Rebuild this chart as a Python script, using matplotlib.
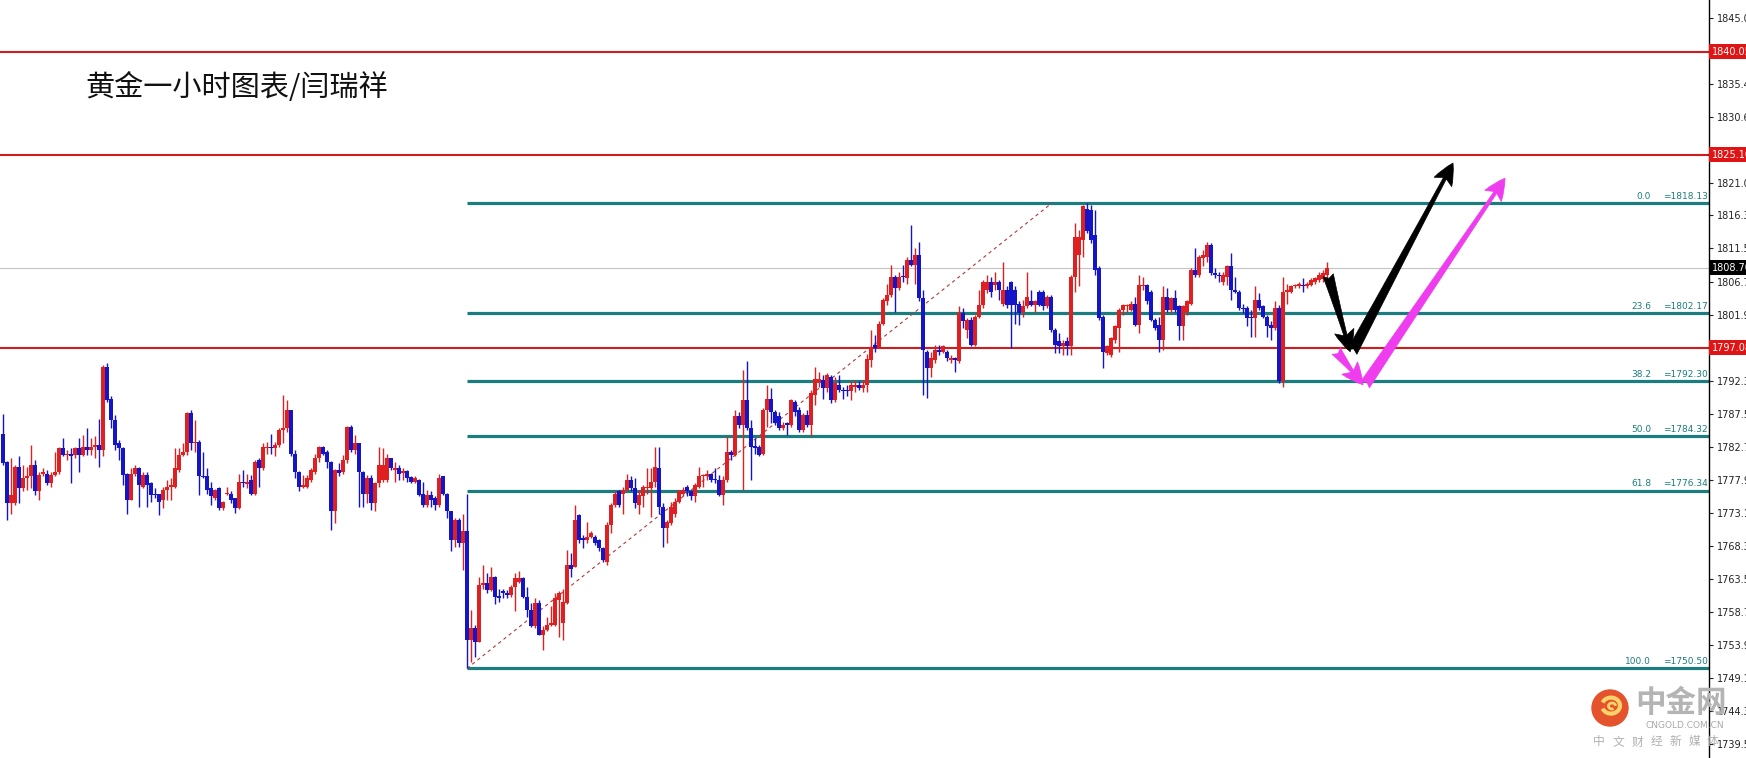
import numpy as np
import matplotlib
matplotlib.use("Agg")
import matplotlib.pyplot as plt
import matplotlib.transforms as mtransforms
from matplotlib.patches import Circle, Arc

plt.rcParams['font.family'] = ['DejaVu Sans']

# hourly gold candles (price in USD)
opens = [
    1784.6, 1780.5, 1774.5, 1774.5, 1779.8, 1776.7, 1778.1, 1778.4, 1780.0, 1776.2,
    1778.8, 1778.8, 1777.4, 1778.6, 1779.1, 1782.5, 1781.5, 1781.7, 1781.5, 1782.5,
    1781.5, 1782.7, 1782.2, 1782.7, 1782.9, 1782.2, 1794.3, 1789.7, 1786.6, 1783.2,
    1782.5, 1778.8, 1775.0, 1778.8, 1779.6, 1776.9, 1778.6, 1777.4, 1775.9, 1775.8,
    1775.0, 1776.4, 1776.9, 1776.9, 1779.3, 1781.5, 1782.0, 1787.6, 1783.2, 1783.4,
    1778.4, 1778.4, 1776.7, 1775.2, 1776.7, 1773.8, 1775.8, 1775.9, 1775.2, 1773.8,
    1777.6, 1777.3, 1777.9, 1775.9, 1780.8, 1779.6, 1782.5, 1782.6, 1782.5, 1782.9,
    1785.1, 1785.4, 1788.0, 1781.7, 1779.1, 1776.9, 1776.9, 1777.9, 1779.1, 1781.0,
    1782.7, 1782.0, 1780.5, 1773.3, 1779.3, 1779.1, 1780.8, 1785.6, 1782.2, 1783.2,
    1779.1, 1775.9, 1778.1, 1774.5, 1777.4, 1777.9, 1777.9, 1781.0, 1779.3, 1779.6,
    1778.9, 1779.2, 1778.3, 1777.6, 1777.9, 1775.8, 1774.2, 1775.7, 1775.2, 1774.2,
    1778.4, 1775.9, 1773.3, 1769.2, 1772.1, 1768.7, 1770.4, 1754.6, 1756.3, 1754.4,
    1762.6, 1762.9, 1761.9, 1763.8, 1761.0, 1761.7, 1761.4, 1761.2, 1762.4, 1763.1,
    1763.6, 1760.9, 1759.0, 1756.6, 1760.0, 1755.4, 1756.1, 1756.8, 1756.8, 1760.4,
    1757.1, 1760.0, 1765.5, 1765.3, 1772.8, 1769.4, 1769.2, 1769.6, 1769.6, 1769.2,
    1768.0, 1766.0, 1771.3, 1774.2, 1776.2, 1775.9, 1776.4, 1777.9, 1776.7, 1774.2,
    1775.5, 1776.7, 1776.7, 1777.6, 1779.6, 1774.0, 1770.9, 1771.6, 1773.0, 1774.7,
    1775.9, 1776.9, 1776.2, 1775.5, 1776.9, 1778.4, 1778.5, 1778.8, 1778.0, 1777.9,
    1775.7, 1777.9, 1782.0, 1781.5, 1787.1, 1785.9, 1789.5, 1785.4, 1782.8, 1782.7,
    1781.7, 1788.0, 1789.7, 1787.8, 1787.1, 1785.4, 1786.1, 1785.9, 1789.2, 1788.0,
    1785.1, 1787.3, 1785.9, 1790.2, 1792.1, 1792.4, 1791.2, 1792.9, 1789.5, 1791.7,
    1791.0, 1790.9, 1790.8, 1791.4, 1791.7, 1791.2, 1791.7, 1795.3, 1797.5, 1797.2,
    1800.6, 1803.8, 1804.7, 1807.4, 1805.7, 1807.4, 1807.2, 1809.8, 1809.1, 1810.5,
    1804.3, 1796.5, 1794.1, 1795.3, 1796.7, 1796.5, 1796.5, 1795.3, 1795.6, 1795.1,
    1802.1, 1799.7, 1801.1, 1797.5, 1801.6, 1803.3, 1805.5, 1806.7, 1806.2, 1806.7,
    1803.5, 1805.5, 1806.7, 1805.5, 1803.5, 1802.3, 1803.1, 1803.8, 1803.3, 1805.2,
    1805.2, 1803.1, 1804.5, 1799.7, 1798.0, 1797.3, 1798.0, 1797.3, 1807.4, 1810.6,
    1812.7, 1817.3, 1817.1, 1813.5, 1808.6, 1801.6, 1796.3, 1796.0, 1798.2, 1799.9,
    1802.6, 1803.1, 1802.6, 1803.5, 1800.4, 1806.0, 1806.2, 1805.2, 1801.1, 1800.4,
    1798.2, 1804.5, 1802.6, 1804.3, 1803.1, 1800.2, 1802.3, 1803.5, 1808.4, 1807.7,
    1810.1, 1810.3, 1812.0, 1807.9, 1807.7, 1806.7, 1807.4, 1808.9, 1805.5, 1805.2,
    1802.8, 1802.8, 1801.6, 1801.4, 1804.0, 1803.1, 1801.6, 1800.4, 1799.9, 1802.8,
    1792.2, 1805.2, 1805.2, 1806.0, 1806.0, 1806.2, 1806.0, 1806.2, 1806.7, 1806.9,
    1807.0, 1807.6,
]
highs = [
    1787.5, 1780.7, 1781.0, 1780.0, 1781.3, 1780.0, 1779.8, 1782.9, 1780.8, 1779.1,
    1779.6, 1779.3, 1779.1, 1782.0, 1782.7, 1783.9, 1782.2, 1782.5, 1782.7, 1783.9,
    1784.4, 1785.4, 1783.9, 1784.2, 1786.8, 1794.6, 1794.8, 1790.0, 1787.3, 1783.7,
    1782.6, 1778.9, 1779.6, 1780.0, 1779.7, 1779.1, 1779.1, 1777.6, 1776.7, 1775.9,
    1776.9, 1777.9, 1778.1, 1782.5, 1782.5, 1783.2, 1787.8, 1788.0, 1786.6, 1783.7,
    1782.0, 1779.6, 1777.6, 1776.5, 1776.8, 1774.8, 1776.9, 1776.2, 1775.3, 1778.8,
    1779.3, 1778.8, 1778.6, 1780.8, 1781.0, 1783.2, 1783.4, 1784.6, 1783.4, 1785.4,
    1790.2, 1789.5, 1788.1, 1782.2, 1779.2, 1778.6, 1778.6, 1779.6, 1781.7, 1782.8,
    1782.8, 1782.2, 1780.6, 1779.4, 1780.3, 1781.5, 1785.7, 1785.9, 1784.4, 1783.3,
    1779.2, 1778.6, 1778.6, 1777.6, 1782.7, 1782.5, 1781.7, 1781.1, 1780.5, 1780.0,
    1779.6, 1779.3, 1778.4, 1778.4, 1778.0, 1777.6, 1776.4, 1776.2, 1775.5, 1778.8,
    1778.5, 1776.0, 1773.4, 1772.3, 1772.3, 1773.0, 1775.8, 1759.0, 1756.8, 1763.8,
    1765.5, 1764.3, 1765.3, 1763.9, 1762.1, 1762.1, 1761.9, 1762.6, 1764.3, 1764.6,
    1763.8, 1762.4, 1760.0, 1760.7, 1760.4, 1756.6, 1758.0, 1759.5, 1761.4, 1761.7,
    1762.1, 1767.7, 1767.2, 1774.2, 1772.9, 1769.9, 1771.8, 1770.4, 1769.9, 1769.3,
    1768.2, 1771.8, 1774.5, 1776.2, 1776.4, 1776.9, 1778.8, 1778.4, 1778.1, 1776.4,
    1777.1, 1779.6, 1779.6, 1782.7, 1782.7, 1774.5, 1772.1, 1774.7, 1775.2, 1776.4,
    1776.9, 1777.1, 1776.4, 1777.4, 1779.8, 1778.8, 1779.3, 1778.9, 1779.6, 1778.6,
    1778.4, 1784.2, 1782.2, 1788.0, 1787.8, 1793.8, 1795.1, 1786.6, 1783.9, 1782.9,
    1788.3, 1791.7, 1791.2, 1788.0, 1787.8, 1786.3, 1786.3, 1789.7, 1789.5, 1788.5,
    1787.6, 1788.0, 1790.9, 1794.3, 1793.6, 1793.1, 1793.4, 1793.1, 1792.9, 1793.1,
    1791.4, 1791.7, 1792.2, 1792.4, 1792.2, 1792.4, 1796.1, 1799.7, 1799.0, 1800.9,
    1804.3, 1806.4, 1809.1, 1807.6, 1808.1, 1809.1, 1810.3, 1814.9, 1811.5, 1812.5,
    1805.5, 1796.8, 1796.5, 1797.5, 1797.5, 1797.5, 1796.8, 1796.0, 1795.8, 1803.1,
    1802.8, 1801.4, 1801.6, 1801.9, 1805.5, 1806.9, 1807.7, 1807.4, 1808.1, 1806.9,
    1809.6, 1806.0, 1806.8, 1806.0, 1803.8, 1804.0, 1808.1, 1805.5, 1804.0, 1805.5,
    1805.5, 1804.8, 1804.8, 1799.9, 1799.2, 1798.2, 1798.7, 1807.7, 1815.2, 1814.2,
    1817.8, 1818.1, 1817.8, 1817.1, 1808.9, 1801.9, 1797.5, 1798.7, 1800.4, 1802.8,
    1803.5, 1803.5, 1803.8, 1804.5, 1807.7, 1807.4, 1806.4, 1805.5, 1801.4, 1801.6,
    1806.0, 1805.7, 1804.5, 1805.5, 1803.3, 1803.3, 1804.0, 1808.6, 1811.5, 1810.6,
    1811.3, 1812.5, 1812.3, 1808.6, 1808.1, 1808.1, 1809.1, 1810.8, 1807.4, 1805.5,
    1803.5, 1803.1, 1802.6, 1806.0, 1805.0, 1803.3, 1801.9, 1800.9, 1803.8, 1803.3,
    1807.4, 1806.4, 1806.2, 1806.4, 1806.7, 1807.2, 1806.7, 1807.2, 1807.4, 1808.1,
    1808.3, 1809.5,
]
lows = [
    1780.0, 1772.1, 1773.0, 1774.2, 1774.5, 1776.2, 1776.4, 1776.7, 1775.7, 1775.0,
    1778.4, 1777.1, 1776.9, 1778.4, 1778.8, 1781.3, 1780.8, 1777.4, 1781.0, 1779.1,
    1781.3, 1781.5, 1781.5, 1781.0, 1779.8, 1781.3, 1789.2, 1785.4, 1782.2, 1780.8,
    1777.1, 1773.0, 1774.9, 1778.4, 1774.0, 1776.7, 1774.0, 1774.7, 1775.2, 1772.8,
    1773.8, 1775.0, 1775.0, 1776.7, 1779.1, 1781.3, 1781.5, 1782.2, 1782.0, 1775.7,
    1778.1, 1775.9, 1774.2, 1775.0, 1773.5, 1773.5, 1775.7, 1774.5, 1773.1, 1773.7,
    1776.9, 1776.7, 1775.7, 1775.7, 1776.9, 1779.3, 1781.7, 1781.7, 1781.3, 1782.7,
    1783.2, 1784.9, 1781.3, 1778.1, 1776.2, 1776.7, 1776.7, 1777.6, 1778.8, 1780.5,
    1781.5, 1779.6, 1770.6, 1771.6, 1778.4, 1778.8, 1780.3, 1782.0, 1781.7, 1774.0,
    1774.0, 1774.5, 1773.5, 1773.3, 1776.9, 1777.6, 1777.6, 1779.3, 1777.6, 1777.9,
    1777.9, 1777.6, 1777.5, 1777.4, 1775.5, 1774.0, 1774.0, 1774.0, 1773.5, 1774.0,
    1775.7, 1772.3, 1767.5, 1768.2, 1768.2, 1764.8, 1750.5, 1751.5, 1752.2, 1754.3,
    1762.1, 1761.4, 1761.7, 1759.9, 1760.2, 1760.7, 1760.7, 1760.9, 1758.8, 1762.9,
    1760.7, 1758.0, 1756.5, 1756.3, 1755.3, 1753.2, 1756.0, 1756.6, 1756.6, 1755.1,
    1754.6, 1759.9, 1763.8, 1765.2, 1768.7, 1768.0, 1768.7, 1769.4, 1768.4, 1767.5,
    1766.0, 1765.5, 1770.1, 1774.0, 1774.0, 1773.0, 1776.2, 1776.2, 1773.8, 1773.0,
    1774.0, 1775.9, 1772.5, 1776.9, 1773.0, 1768.2, 1768.7, 1771.3, 1772.5, 1774.5,
    1775.5, 1775.5, 1775.0, 1774.7, 1776.7, 1776.9, 1777.9, 1777.6, 1777.4, 1775.5,
    1774.2, 1777.6, 1780.8, 1781.3, 1785.4, 1776.4, 1785.1, 1777.9, 1781.7, 1781.3,
    1781.5, 1785.6, 1786.1, 1785.9, 1785.1, 1785.1, 1784.4, 1785.6, 1787.1, 1784.9,
    1784.9, 1785.6, 1784.2, 1788.8, 1791.4, 1789.7, 1790.7, 1789.0, 1789.2, 1790.7,
    1789.7, 1790.0, 1789.5, 1790.7, 1790.9, 1790.7, 1790.7, 1794.3, 1796.5, 1797.0,
    1800.4, 1803.3, 1804.5, 1802.3, 1805.5, 1806.7, 1806.4, 1808.9, 1806.4, 1803.8,
    1790.2, 1789.8, 1792.9, 1794.8, 1796.0, 1796.3, 1795.1, 1794.8, 1793.6, 1794.8,
    1799.9, 1798.5, 1797.3, 1797.3, 1801.4, 1802.8, 1805.0, 1804.5, 1805.5, 1804.0,
    1803.1, 1802.8, 1797.0, 1800.6, 1800.4, 1801.6, 1802.8, 1803.1, 1802.3, 1803.1,
    1802.6, 1802.8, 1799.4, 1796.3, 1796.3, 1796.0, 1796.0, 1796.0, 1805.2, 1806.0,
    1810.3, 1813.7, 1812.3, 1807.7, 1801.1, 1794.1, 1796.0, 1795.8, 1797.7, 1796.5,
    1801.9, 1802.3, 1802.4, 1800.2, 1799.2, 1805.5, 1803.5, 1800.9, 1799.7, 1796.5,
    1796.8, 1802.3, 1802.1, 1802.3, 1798.2, 1798.2, 1801.9, 1803.3, 1807.4, 1807.4,
    1808.9, 1809.6, 1807.7, 1807.2, 1806.7, 1806.2, 1806.2, 1804.0, 1805.0, 1802.6,
    1802.1, 1800.2, 1798.7, 1798.7, 1802.6, 1801.4, 1798.7, 1798.2, 1799.7, 1791.9,
    1791.4, 1803.5, 1805.0, 1805.7, 1805.7, 1805.2, 1805.7, 1806.0, 1806.4, 1806.7,
    1806.6, 1806.9,
]
closes = [
    1780.3, 1774.5, 1775.7, 1779.8, 1776.7, 1778.1, 1778.4, 1780.0, 1776.2, 1778.6,
    1779.1, 1777.4, 1778.6, 1779.1, 1782.5, 1781.5, 1781.7, 1781.3, 1782.5, 1781.5,
    1782.7, 1782.2, 1782.7, 1782.9, 1782.2, 1794.3, 1789.5, 1786.6, 1782.9, 1782.5,
    1778.6, 1775.0, 1778.8, 1779.6, 1777.1, 1778.6, 1777.1, 1775.7, 1775.7, 1774.7,
    1776.4, 1776.9, 1777.1, 1779.6, 1781.5, 1782.0, 1787.6, 1783.2, 1783.4, 1778.4,
    1778.3, 1776.4, 1775.5, 1776.4, 1773.8, 1774.7, 1775.9, 1775.0, 1773.8, 1777.6,
    1777.4, 1777.6, 1775.9, 1780.5, 1779.6, 1782.7, 1782.7, 1782.5, 1782.9, 1785.1,
    1785.4, 1788.0, 1781.7, 1779.1, 1776.9, 1777.1, 1778.1, 1779.3, 1781.0, 1782.7,
    1781.7, 1780.5, 1773.3, 1779.3, 1778.9, 1780.8, 1785.6, 1782.2, 1783.2, 1779.1,
    1775.9, 1778.1, 1774.5, 1777.4, 1780.0, 1780.0, 1781.0, 1779.6, 1779.6, 1778.8,
    1779.2, 1778.1, 1777.6, 1778.1, 1775.7, 1774.2, 1775.7, 1775.0, 1774.2, 1778.1,
    1775.9, 1773.3, 1769.2, 1772.1, 1768.7, 1770.4, 1754.6, 1756.3, 1754.4, 1762.6,
    1762.9, 1761.9, 1763.8, 1760.9, 1760.8, 1761.4, 1761.2, 1762.4, 1763.6, 1763.6,
    1760.9, 1759.0, 1756.6, 1760.0, 1755.4, 1756.1, 1756.8, 1757.1, 1760.7, 1761.4,
    1760.2, 1765.5, 1765.0, 1772.1, 1769.2, 1769.2, 1769.6, 1770.2, 1768.7, 1768.0,
    1766.3, 1771.3, 1774.2, 1775.9, 1774.2, 1776.4, 1777.9, 1776.7, 1774.5, 1775.7,
    1776.9, 1776.9, 1777.6, 1779.8, 1774.0, 1770.9, 1771.8, 1774.0, 1774.7, 1776.2,
    1776.4, 1776.2, 1775.5, 1777.1, 1778.4, 1778.6, 1778.8, 1777.9, 1777.8, 1775.7,
    1777.9, 1782.0, 1781.5, 1787.1, 1785.9, 1789.5, 1785.4, 1782.7, 1782.5, 1781.5,
    1788.0, 1789.7, 1787.8, 1786.1, 1785.4, 1785.9, 1785.9, 1789.5, 1787.8, 1785.1,
    1787.3, 1785.9, 1790.5, 1792.6, 1792.6, 1791.2, 1793.1, 1789.5, 1791.9, 1790.9,
    1790.8, 1790.8, 1791.7, 1791.7, 1791.2, 1791.7, 1795.5, 1797.2, 1797.0, 1800.6,
    1804.0, 1804.7, 1807.4, 1805.7, 1807.4, 1807.3, 1809.8, 1809.1, 1810.5, 1804.3,
    1796.8, 1794.1, 1795.6, 1796.8, 1796.4, 1797.3, 1795.6, 1795.6, 1795.3, 1802.1,
    1800.9, 1801.1, 1797.5, 1801.6, 1803.3, 1806.7, 1806.7, 1805.2, 1806.7, 1805.5,
    1805.5, 1803.3, 1803.3, 1803.3, 1802.1, 1803.1, 1804.5, 1803.3, 1803.8, 1803.3,
    1803.1, 1804.5, 1799.7, 1797.5, 1797.3, 1797.7, 1797.3, 1807.4, 1813.2, 1813.2,
    1817.6, 1814.0, 1812.7, 1808.4, 1801.4, 1796.5, 1797.3, 1798.5, 1800.2, 1802.6,
    1803.3, 1803.3, 1803.5, 1800.4, 1806.2, 1806.2, 1803.8, 1801.1, 1799.9, 1798.2,
    1804.5, 1802.6, 1804.3, 1802.6, 1800.2, 1803.1, 1803.8, 1808.4, 1807.7, 1810.3,
    1810.6, 1812.0, 1807.9, 1807.7, 1807.5, 1807.7, 1808.9, 1805.5, 1805.2, 1802.8,
    1802.7, 1801.4, 1801.4, 1804.0, 1802.8, 1801.6, 1800.2, 1799.9, 1802.8, 1792.2,
    1805.2, 1805.5, 1806.0, 1806.2, 1806.4, 1806.0, 1806.4, 1806.9, 1807.2, 1807.7,
    1808.0, 1808.7,
]

# horizontal support / resistance lines (red) and current price
red_levels = [1840.05, 1825.10, 1797.08]
current_price = 1808.70

# fibonacci retracement drawn from the low candle to the high
fib_pcts = ["0.0", "23.6", "38.2", "50.0", "61.8", "100.0"]
fib_values = [1818.13, 1802.17, 1792.30, 1784.32, 1776.34, 1750.50]
fib_start_bar = 116
fib_trend_end = (262.3, 1818.13)

# right axis tick labels
ytick_values = [1845.00, 1835.40, 1830.60, 1821.00, 1816.30, 1811.50, 1806.70,
                1801.90, 1792.30, 1787.50, 1782.70, 1777.90, 1773.10, 1768.30,
                1763.50, 1758.70, 1753.90, 1749.10, 1744.30, 1739.50]

# forecast arrows (bar index, price): start -> tip
black_arrows = [((331.3, 1807.6), (336.8, 1796.5)), ((337.3, 1796.5), (362.5, 1823.9))]
pink_arrows = [((333.3, 1796.6), (340.0, 1791.7)), ((340.5, 1791.7), (375.5, 1821.7))]

title = "黄金一小时图表/闫瑞祥"

RED = "#e02020"
BLUE = "#1414c8"
TEAL = "#1b7d7d"

W, H = 1746, 758
fig = plt.figure(figsize=(W / 100, H / 100), dpi=100)
ax = fig.add_axes([0, 0, 1709 / W, 1])
ax.set_xlim(-0.75, -0.75 + 1709 / 4)
ax.set_ylim(1737.49, 1847.59)

o = np.array(opens); c = np.array(closes)
h = np.maximum(np.array(highs), np.maximum(o, c))
l = np.minimum(np.array(lows), np.minimum(o, c))
x = np.arange(len(o))
up = c >= o
cols = np.where(up, RED, BLUE)

ax.vlines(x, l, h, colors=cols, linewidth=1.0, zorder=3)
body_lo = np.minimum(o, c)
body_h = np.maximum(np.abs(c - o), 0.2)
ax.bar(x, body_h, bottom=body_lo, width=0.78, color=cols, linewidth=0, zorder=4)

# lines
for v in red_levels:
    ax.axhline(v, color="#d01c1c", linewidth=1.5, zorder=2)
ax.axhline(current_price, color="#c4c4c4", linewidth=0.8, zorder=1)
for v in fib_values:
    ax.hlines(v, fib_start_bar, ax.get_xlim()[1], color=TEAL, linewidth=2.3, zorder=2)
ax.plot([fib_start_bar, fib_trend_end[0]], [fib_values[-1], fib_trend_end[1]],
        color="#b03a3a", linewidth=0.8, dashes=(3, 3), zorder=2)

trans = mtransforms.blended_transform_factory(ax.transAxes, ax.transData)
for pct, v in zip(fib_pcts, fib_values):
    ax.annotate(pct, xy=(1651 / 1709, v), xycoords=trans, xytext=(0, 1.5),
                textcoords="offset points", ha="right", va="bottom",
                fontsize=6.5, color=TEAL)
    ax.annotate(f"={v:.2f}", xy=(1708 / 1709, v), xycoords=trans, xytext=(0, 1.5),
                textcoords="offset points", ha="right", va="bottom",
                fontsize=6.5, color=TEAL)

# arrows
def draw_arrow(p0, p1, color, scale):
    ax.annotate("", xy=p1, xytext=p0,
                arrowprops=dict(arrowstyle="fancy,head_length=0.7,head_width=0.65,tail_width=0.35",
                                fc=color, ec=color, lw=0.5, mutation_scale=scale,
                                shrinkA=0, shrinkB=0), zorder=6)

for p0, p1 in black_arrows:
    draw_arrow(p0, p1, "black", 22)
for p0, p1 in pink_arrows:
    draw_arrow(p0, p1, "#ee3cee", 22)

# axis styling
for s in ["left", "top", "bottom"]:
    ax.spines[s].set_visible(False)
ax.spines["right"].set_linewidth(1.0)
ax.set_xticks([])
ax.yaxis.tick_right()
ax.set_yticks(ytick_values, [f"{v:.2f}" for v in ytick_values])
ax.tick_params(axis="y", labelsize=7, length=3, width=0.8, pad=3, colors="#222222")

# price boxes on the axis
for v in red_levels:
    ax.text(1.0015, v, f"{v:.2f}", transform=trans, ha="left", va="center",
            fontsize=7, color="white", clip_on=False, zorder=7,
            bbox=dict(boxstyle="square,pad=0.25", fc="#e01414", ec="none"))
ax.text(1.0015, current_price, f"{current_price:.2f}", transform=trans, ha="left",
        va="center", fontsize=7, color="white", clip_on=False, zorder=7,
        bbox=dict(boxstyle="square,pad=0.25", fc="black", ec="none"))

fig.text(85 / W, 1 - 88 / H, title, fontsize=21, color="#111111", ha="left",
         va="center", family=["Noto Sans CJK SC", "DejaVu Sans"])

# watermark logo
lax = fig.add_axes([(1610 - 22) / W, (H - 708 - 22) / H, 44 / W, 44 / H])
lax.set_xlim(-1.1, 1.1); lax.set_ylim(-1.1, 1.1); lax.axis("off")
lax.add_patch(Circle((0, 0), 0.9, color="#e4532c"))
lax.add_patch(Arc((0.05, 0.12), 0.9, 0.8, theta1=200, theta2=520, color="#fbd36a", lw=3))
lax.add_patch(Arc((0.1, 0.1), 0.35, 0.3, theta1=0, theta2=300, color="#fbd36a", lw=2))
fig.text(1681 / W, 1 - 703 / H, "中金网", fontsize=22, color="#b4b4b4", ha="center",
         va="center", weight="bold", family=["Noto Sans CJK SC", "DejaVu Sans"])
fig.text(1685 / W, 1 - 725 / H, "CNGOLD.COM.CN", fontsize=6.5, color="#a8a8a8",
         ha="center", va="center")
for k, ch in enumerate("中文财经新媒体"):
    fig.text((1599 + k * 19) / W, 1 - 742 / H, ch, fontsize=8.5, color="#b0b0b0",
             ha="center", va="center", family=["Noto Sans CJK SC", "DejaVu Sans"])

fig.savefig("out.png", dpi=100)
